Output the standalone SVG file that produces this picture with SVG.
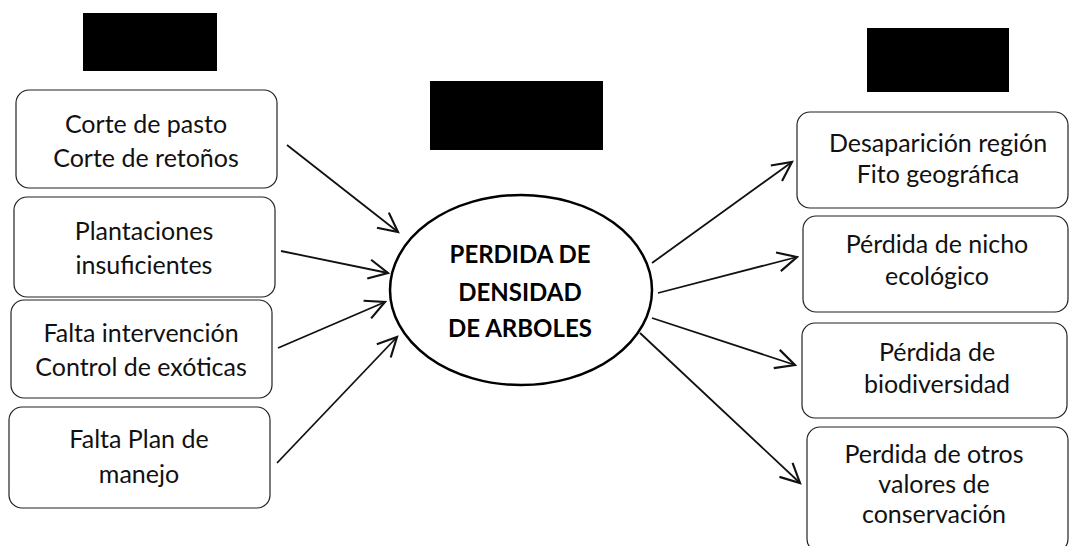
<svg xmlns="http://www.w3.org/2000/svg" width="1070" height="546" viewBox="0 0 1070 546">
<defs>
<style>
.box{fill:#fff;stroke:#222;stroke-width:1.2}
.t{font-family:Lato,"Open Sans",sans-serif;font-size:25px;fill:#111;text-anchor:middle}
.tb{font-family:Lato,"Open Sans",sans-serif;font-size:24px;font-weight:bold;fill:#000;text-anchor:middle}
.red{fill:#000}
.arr{stroke:#111;stroke-width:1.8;fill:none;marker-end:url(#ah)}
</style>
<marker id="ah" markerUnits="userSpaceOnUse" markerWidth="24" markerHeight="24" refX="18" refY="10" orient="auto" viewBox="0 0 20 20">
<path d="M2,2 L18,10 L2,18" fill="none" stroke="#111" stroke-width="1.8"/>
</marker>
</defs>
<rect width="1070" height="546" fill="#fff"/>
<rect class="red" x="83" y="13" width="134" height="58"/>
<rect class="red" x="430" y="81" width="173" height="69"/>
<rect class="red" x="867" y="28" width="142" height="64"/>

<g id="connectors">
<line class="arr" x1="287" y1="145" x2="398" y2="232"/>
<line class="arr" x1="281" y1="251" x2="388" y2="273"/>
<line class="arr" x1="278" y1="348" x2="385" y2="302"/>
<line class="arr" x1="277" y1="463" x2="397" y2="337"/>
<line class="arr" x1="652" y1="263" x2="792" y2="162"/>
<line class="arr" x1="658" y1="293" x2="797" y2="257"/>
<line class="arr" x1="652" y1="318" x2="795" y2="365"/>
<line class="arr" x1="640" y1="333" x2="800" y2="483"/>
</g>

<g id="n-corte">
<rect class="box" x="16" y="90" width="261" height="98" rx="13"/>
<text class="t" x="146" y="133">Corte de pasto</text>
<text class="t" x="146" y="167">Corte de retoños</text>
</g>
<g id="n-plantaciones">
<rect class="box" x="14" y="197" width="261" height="100" rx="13"/>
<text class="t" x="144" y="240">Plantaciones</text>
<text class="t" x="144" y="274">insuficientes</text>
</g>
<g id="n-falta-intervencion">
<rect class="box" x="11" y="300" width="261" height="98" rx="13"/>
<text class="t" x="141" y="342">Falta intervención</text>
<text class="t" x="141" y="376">Control de exóticas</text>
</g>
<g id="n-falta-plan">
<rect class="box" x="9" y="407" width="261" height="101" rx="13"/>
<text class="t" x="139" y="448">Falta Plan de</text>
<text class="t" x="139" y="483">manejo</text>
</g>

<g id="n-centro">
<ellipse cx="521" cy="290" rx="131" ry="95" fill="#fff" stroke="#000" stroke-width="2.5"/>
<text class="tb" x="520" y="263">PERDIDA DE</text>
<text class="tb" x="520" y="301">DENSIDAD</text>
<text class="tb" x="520" y="337">DE ARBOLES</text>
</g>

<g id="n-desaparicion">
<rect class="box" x="797" y="112" width="271" height="96" rx="13"/>
<text class="t" x="938" y="152">Desaparición región</text>
<text class="t" x="938" y="183">Fito geográfica</text>
</g>
<g id="n-nicho">
<rect class="box" x="803" y="216" width="265" height="96" rx="13"/>
<text class="t" x="937" y="253">Pérdida de nicho</text>
<text class="t" x="937" y="285">ecológico</text>
</g>
<g id="n-biodiversidad">
<rect class="box" x="802" y="323" width="265" height="95" rx="13"/>
<text class="t" x="937" y="361">Pérdida de</text>
<text class="t" x="937" y="393">biodiversidad</text>
</g>
<g id="n-otros">
<rect class="box" x="807" y="427" width="261" height="125" rx="13"/>
<text class="t" x="934" y="463">Perdida de otros</text>
<text class="t" x="934" y="493">valores de</text>
<text class="t" x="934" y="523">conservación</text>
</g>
</svg>
